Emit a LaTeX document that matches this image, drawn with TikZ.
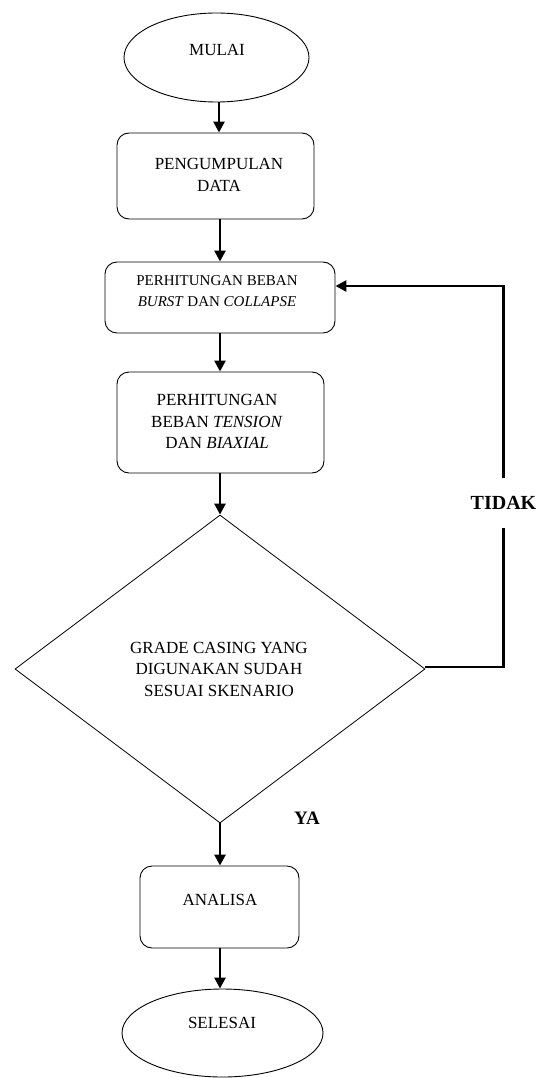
\documentclass[tikz,border=0pt]{standalone}
\usepackage{fontspec}
\setmainfont{Liberation Serif}
\usetikzlibrary{arrows.meta,shapes.geometric}
\begin{document}
\begin{tikzpicture}[x=1pt,y=-1pt,
  box/.style={draw,rounded corners=12pt,line width=0.9pt,inner sep=0pt},
  term/.style={draw,ellipse,line width=0.9pt,inner sep=0pt},
  txt/.style={align=center,font=\fontsize{17}{21.5}\selectfont,inner sep=0pt},
  arr/.style={line width=2.6pt,-{Triangle[width=11pt,length=11pt]}},
  lab/.style={font=\fontsize{20}{24}\selectfont\bfseries,inner sep=0pt}]
\useasboundingbox (0,0) rectangle (541,1078);
\coordinate (axis) at (220,0);
\coordinate (axisA) at (219,0);
% terminals and boxes
\node[term,minimum width=185pt,minimum height=89pt] (mulai) at (216.5,57.5) {};
\node[txt] (tmulai) at (217,50) {MULAI};
\node[box,minimum width=197pt,minimum height=86pt] (box1) at (215.5,176) {};
\node[txt] (tbox1) at (219,175) {PENGUMPULAN\\DATA};
\node[box,minimum width=230pt,minimum height=71pt] (box3) at (220,297.5) {};
\node[txt,font=\fontsize{15}{21}\selectfont] (tbox3) at (217,291.5) {PERHITUNGAN BEBAN\\\textit{BURST} DAN \textit{COLLAPSE}};
\node[box,minimum width=207pt,minimum height=101pt] (box4) at (220.5,422.5) {};
\node[txt] (tbox4) at (217,421.5) {PERHITUNGAN\\BEBAN \textit{TENSION}\\DAN \textit{BIAXIAL}};
\node[draw,diamond,minimum width=410pt,minimum height=308pt,inner sep=0pt,line width=0.8pt] (dia) at (220,669) {};
\node[txt] (tdia) at (219,669) {GRADE CASING YANG\\DIGUNAKAN SUDAH\\SESUAI SKENARIO};
\node[box,minimum width=159pt,minimum height=82pt] (ana) at (219.5,907) {};
\node[txt] (tana) at (220,900) {ANALISA};
\node[term,minimum width=201pt,minimum height=88pt] (sel) at (222.5,1033) {};
\node[txt] (tsel) at (222,1023) {SELESAI};
% labels
\node[lab,minimum height=50pt] (tidak) at (503.5,503) {TIDAK};
\node[lab,font=\fontsize{19}{23}\selectfont\bfseries] (ya) at (307,818) {YA};
% connectors
\draw[arr] (mulai.south -| axisA) -- (box1.north -| axisA);
\draw[arr] (box1.south -| axis) -- (box3.north -| axis);
\draw[arr] (box3.south -| axis) -- (box4.north -| axis);
\draw[arr] (box4.south -| axis) -- (dia.north -| axis);
\draw[arr] (dia.south -| axis) -- (ana.north -| axis);
\draw[arr] (ana.south -| axis) -- (sel.north -| axis);
\draw[line width=2.6pt] ([yshift=2pt]dia.east) -| (tidak.south);
\draw[arr] (tidak.north) |- ([yshift=11.5pt]box3.east);
\end{tikzpicture}
\end{document}
